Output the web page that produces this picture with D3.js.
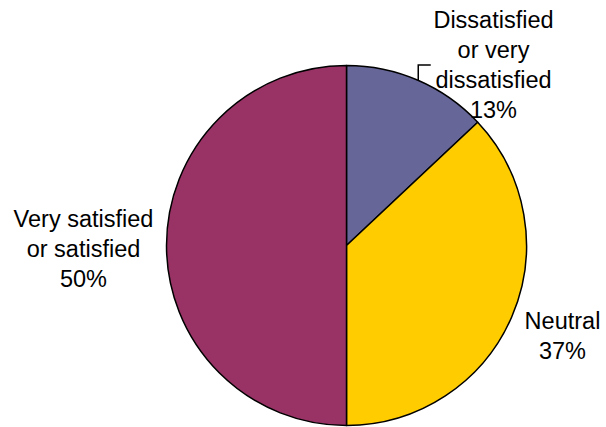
<!DOCTYPE html>
<html><head><meta charset="utf-8">
<script src="https://cdn.jsdelivr.net/npm/d3@7"></script>
<style>body{margin:0;background:#fff}svg{display:block}</style>
</head><body>
<script>
const categories = ["Dissatisfied or very dissatisfied", "Neutral", "Very satisfied or satisfied"];
const values = [13, 37, 50];
const colors = ["#666699", "#FFCC00", "#993366"];
const labelLines = [
  ["Dissatisfied", "or very", "dissatisfied", "13%"],
  ["Neutral", "37%"],
  ["Very satisfied", "or satisfied", "50%"]
];
const labelPos = [[493.5, 28], [562.5, 329], [83.5, 227]];

const W = 606, H = 427, cx = 346.5, cy = 245.5, R = 180;
const svg = d3.select("body").append("svg").attr("width", W).attr("height", H);
const pie = d3.pie().sort(null).value(d => d)(values);
const arc = d3.arc().innerRadius(0).outerRadius(R);
const g = svg.append("g").attr("transform", `translate(${cx},${cy})`);
g.selectAll("path").data(pie).join("path")
  .attr("d", arc).attr("fill", (d, i) => colors[i])
  .attr("stroke", "#000").attr("stroke-width", 1.5).attr("stroke-linejoin", "round");

// leader line for the first label
const px = cx + R * Math.sin(0.41), py = cy - R * Math.cos(0.41);
svg.append("path")
  .attr("d", `M${px},${py} L${px},${65} L${px + 12.5},${65}`)
  .attr("fill", "none").attr("stroke", "#000").attr("stroke-width", 1.5);

labelLines.forEach((lines, i) => {
  const t = svg.append("text").attr("text-anchor", "middle")
    .attr("font-family", "Liberation Sans, Arial, sans-serif").attr("font-size", 23.5).attr("fill", "#000");
  lines.forEach((s, j) => t.append("tspan").attr("x", labelPos[i][0]).attr("y", labelPos[i][1] + j * 30).text(s));
});
</script>
</body></html>
